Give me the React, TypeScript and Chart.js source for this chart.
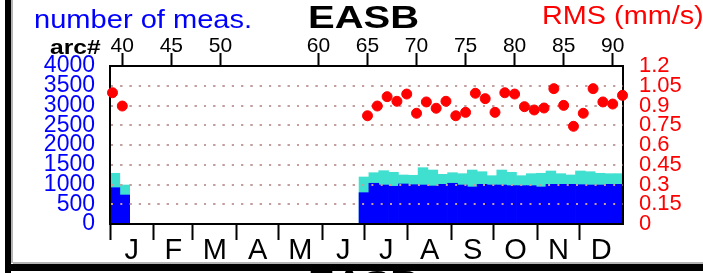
import React, { useEffect, useRef } from 'react';
import { Chart, registerables } from 'chart.js';

Chart.register(...registerables);

// ---------- data ----------
const monthLabels = ['J', 'F', 'M', 'A', 'M', 'J', 'J', 'A', 'S', 'O', 'N', 'D'];
const monthStartDays = [0, 31, 59, 90, 120, 151, 181, 212, 243, 273, 304, 334];
const monthMidDays = [15.5, 45, 74.5, 105, 135.5, 166, 196.5, 227.5, 258, 288.5, 319, 349.5];
const arcTicks = [40, 45, 50, 60, 65, 70, 75, 80, 85, 90];
const countTicks = [0, 500, 1000, 1500, 2000, 2500, 3000, 3500, 4000];
const rmsTicks = [0, 0.15, 0.3, 0.45, 0.6, 0.75, 0.9, 1.05, 1.2];
const rmsTickLabels = ['0', '0.15', '0.3', '0.45', '0.6', '0.75', '0.9', '1.05', '1.2'];

// weekly bins (day of year, bin centre)
const binDays = [
  3.5, 10.5, 180.7, 187.7, 194.7, 201.7, 208.7, 215.7, 222.7, 229.7, 236.7, 243.7, 250.7,
  257.7, 264.7, 271.7, 278.7, 285.7, 292.7, 299.7, 306.7, 313.7, 320.7, 327.7, 334.7,
  341.7, 348.7, 355.7, 362.7,
];
const totalMeas = [
  1284, 987, 1190, 1299, 1350, 1309, 1241, 1233, 1426, 1367, 1258, 1299, 1274, 1367, 1324,
  1223, 1367, 1309, 1223, 1274, 1284, 1342, 1274, 1241, 1342, 1324, 1284, 1274, 1274,
];
const usedMeas = [
  919, 734, 793, 1031, 987, 955, 1013, 995, 987, 962, 1005, 1031, 987, 937, 1005, 987, 987,
  970, 970, 970, 937, 1005, 1005, 1005, 995, 987, 987, 1005, 1005,
];

const rmsArcs = [
  39, 40, 65, 66, 67, 68, 69, 70, 71, 72, 73, 74, 75, 76, 77, 78, 79, 80, 81, 82, 83, 84, 85,
  86, 87, 88, 89, 90, 91,
];
const rmsValues = [
  0.997, 0.896, 0.822, 0.896, 0.967, 0.932, 0.987, 0.841, 0.927, 0.879, 0.932, 0.822, 0.848,
  0.993, 0.952, 0.848, 0.997, 0.987, 0.891, 0.866, 0.881, 1.028, 0.901, 0.742, 0.841, 1.028,
  0.927, 0.911, 0.977,
];

const FONT = "'Liberation Sans', Arial, Helvetica, sans-serif";
const BLUE = '#0000ff';
const RED = '#ff0000';
const CYAN = '#40e0d0';
const GRID = '#c29e9e';
const CLEAR = 'rgba(0,0,0,0)';

const gridOverBars = {
  id: 'gridOverBars',
  afterDatasetDraw(chart: any, args: any) {
    if (args.index === 1) {
      const s: any = chart.scales.y;
      chart.ctx.save();
      s.drawGrid(chart.chartArea);
      chart.ctx.restore();
    }
  },
};

function Label(props: {
  text: string; left: number; top: number; size: number; color: string; bold?: boolean; sx: number;
}) {
  const { text, left, top, size, color, bold, sx } = props;
  return (
    <div
      style={{
        position: 'absolute', left, top, fontFamily: FONT, fontSize: size, lineHeight: `${size}px`,
        fontWeight: bold ? 'bold' : 'normal', color, whiteSpace: 'nowrap',
        transform: `scaleX(${sx})`, transformOrigin: 'left top',
      }}
    >
      {text}
    </div>
  );
}

export default function App() {
  const ref = useRef<HTMLCanvasElement | null>(null);

  useEffect(() => {
    if (!ref.current) return;
    const clipBars = { left: -1, right: -1, top: 0, bottom: -1 };
    const chart = new Chart(ref.current, {
      type: 'bar',
      data: {
        datasets: [
          {
            type: 'bar',
            label: 'all',
            data: binDays.map((d, i) => ({ x: d, y: totalMeas[i] })),
            xAxisID: 'x', yAxisID: 'y',
            backgroundColor: CYAN,
            grouped: false, barPercentage: 1, categoryPercentage: 1,
            order: 3, clip: clipBars,
          } as any,
          {
            type: 'bar',
            label: 'used',
            data: binDays.map((d, i) => ({ x: d, y: usedMeas[i] })),
            xAxisID: 'x', yAxisID: 'y',
            backgroundColor: BLUE,
            grouped: false, barPercentage: 1, categoryPercentage: 1,
            order: 2, clip: clipBars,
          } as any,
          {
            type: 'scatter',
            label: 'rms',
            data: rmsArcs.map((a, i) => ({ x: a, y: rmsValues[i] })),
            xAxisID: 'xTop', yAxisID: 'y2',
            pointRadius: 5, pointBorderWidth: 1,
            pointBackgroundColor: RED, pointBorderColor: RED,
            showLine: false, order: 1, clip: false,
          } as any,
        ],
      },
      options: {
        responsive: false,
        animation: false,
        events: [],
        layout: { padding: 0 },
        plugins: { legend: { display: false }, tooltip: { enabled: false } },
        scales: {
          x: {
            type: 'linear', position: 'bottom', min: 0, max: 365, offset: false,
            afterBuildTicks: (s: any) => {
              s.ticks = [...monthStartDays, ...monthMidDays].sort((a, b) => a - b).map((v) => ({ value: v }));
            },
            grid: {
              offset: false, drawOnChartArea: false, drawTicks: true, tickLength: 16, tickWidth: 2,
              tickColor: (c: any) => (c.tick && monthStartDays.includes(c.tick.value) ? '#000' : CLEAR),
            },
            border: { display: true, color: '#000', width: 2 },
            ticks: {
              autoSkip: false, maxRotation: 0, minRotation: 0, padding: -6, color: '#000',
              font: { family: FONT, size: 29 },
              callback: (v: any) => {
                const i = monthMidDays.indexOf(Number(v));
                return i >= 0 ? monthLabels[i] : '';
              },
            },
            afterFit: (s: any) => { s.height = 49; },
          } as any,
          xTop: {
            type: 'linear', position: 'top', min: 38.746, max: 91.05, offset: false,
            afterBuildTicks: (s: any) => { s.ticks = arcTicks.map((v) => ({ value: v })); },
            grid: { offset: false, drawOnChartArea: false, drawTicks: true, tickLength: 13, tickWidth: 2, tickColor: '#000' },
            border: { display: true, color: '#000', width: 2 },
            ticks: {
              autoSkip: false, maxRotation: 0, minRotation: 0, padding: -6, color: '#000',
              font: { family: FONT, size: 21 },
              callback: (v: any) => String(v),
            },
            afterFit: (s: any) => { s.height = 66; },
          } as any,
          y: {
            type: 'linear', position: 'left', min: 0, max: 4000,
            afterBuildTicks: (s: any) => { s.ticks = countTicks.map((v) => ({ value: v })); },
            grid: {
              drawTicks: false, lineWidth: 2,
              color: (c: any) => (c.tick && c.tick.value > 0 && c.tick.value < 4000 ? GRID : CLEAR),
            },
            border: { display: true, color: '#000', width: 2, dash: [2, 7.3], dashOffset: 0 },
            ticks: {
              autoSkip: false, padding: 15, color: BLUE, font: { family: FONT, size: 23 },
              callback: (v: any) => String(v),
            },
            afterFit: (s: any) => { s.width = 110; },
          } as any,
          y2: {
            type: 'linear', position: 'right', min: 0, max: 1.2,
            afterBuildTicks: (s: any) => { s.ticks = rmsTicks.map((v) => ({ value: v })); },
            grid: { display: true, drawOnChartArea: false, drawTicks: false },
            border: { display: true, color: '#000', width: 2 },
            ticks: {
              autoSkip: false, padding: 16, color: RED, font: { family: FONT, size: 22 },
              callback: (_v: any, i: number) => rmsTickLabels[i],
            },
            afterFit: (s: any) => { s.width = 80; },
          } as any,
        },
      },
      plugins: [gridOverBars],
    });
    return () => chart.destroy();
  }, []);

  return (
    <div
      style={{
        position: 'fixed', left: 0, top: 0, width: 703, height: 273, overflow: 'hidden',
        background: '#fff',
      }}
    >
      <canvas ref={ref} width={703} height={273} style={{ position: 'absolute', left: 0, top: 0, display: 'block' }} />
      {/* panel frame decoration */}
      <div style={{ position: 'absolute', left: 5, top: 0, width: 6, height: 273, background: '#000' }} />
      <div style={{ position: 'absolute', left: 11, top: 0, width: 2, height: 263, background: '#b4b4b4' }} />
      <div style={{ position: 'absolute', left: 13, top: 261.5, width: 690, height: 2, background: '#b4b4b4' }} />
      <div style={{ position: 'absolute', left: 5, top: 263.5, width: 698, height: 7, background: '#000' }} />
      {/* titles */}
      <Label text="number of meas." left={34} top={6.3} size={26} color={BLUE} sx={1.118} />
      <Label text="EASB" left={307.5} top={2.1} size={31} color="#000" bold sx={1.29} />
      <Label text="RMS (mm/s)" left={541.5} top={3.4} size={25.5} color={RED} sx={1.13} />
      <Label text="arc#" left={50} top={36.6} size={20.5} color="#000" bold sx={1.2} />
      <Label text="EASB" left={307.5} top={267} size={31} color="#000" bold sx={1.29} />
    </div>
  );
}
